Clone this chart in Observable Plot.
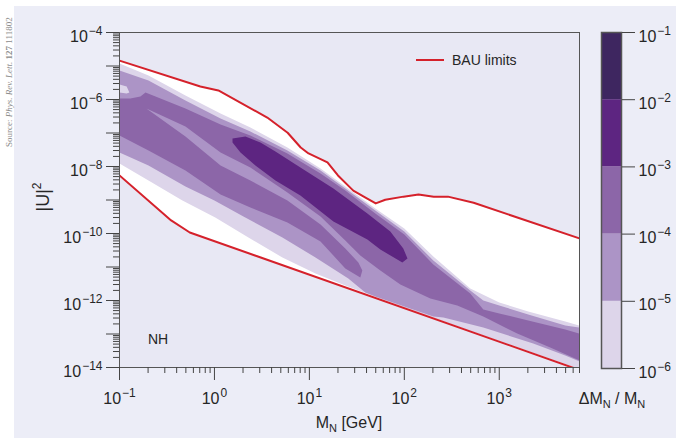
<!DOCTYPE html>
<html>
<head>
<meta charset="utf-8">
<script src="https://cdn.jsdelivr.net/npm/d3@7"></script>
<script src="https://cdn.jsdelivr.net/npm/@observablehq/plot@0.6"></script>
<style>
  body { margin: 0; background: #ffffff; }
  #wrap { position: relative; width: 676px; height: 438px; overflow: hidden;
          font-family: "Liberation Sans", Arial, sans-serif; color: #262626; }
  #bg { position: absolute; left: 14px; top: 6px; right: 0; bottom: 0; background: #ecedf7; }
  #main, #cbar { position: absolute; top: 0; }
  #main { left: 0; }
  #cbar { left: 590px; }
  .lbl { position: absolute; white-space: nowrap; }
  .sub { font-size: 11px; position: relative; top: 4px; }
  .sup { font-size: 12px; position: relative; top: -8px; }
</style>
</head>
<body>
<div id="wrap">
  <div id="bg"></div>
  <div id="main"></div>
  <div id="cbar"></div>
  <div class="lbl" style="left:4px; top:147px; font-size:9px; line-height:10px; font-family:'Liberation Serif',serif; color:#8c8c8c; transform-origin:0 0; transform:rotate(-90deg);">Source: <i>Phys. Rev. Lett.</i> <b>127</b> 111802</div>
  <div class="lbl" style="left:44px; top:197px; font-size:18px; line-height:18px; transform-origin:0 0; transform:rotate(-90deg) translate(-50%,-50%);">|U|<span class="sup">2</span></div>
  <div class="lbl" style="left:349px; top:415px; font-size:16px; line-height:16px; transform:translateX(-50%);">M<span class="sub">N</span> [GeV]</div>
  <div class="lbl" style="left:612px; top:391px; font-size:16px; line-height:16px; transform:translateX(-50%);">ΔM<span class="sub">N</span> / M<span class="sub">N</span></div>
  <div class="lbl" style="left:416px; top:59px; width:28px; height:0; border-top:2px solid #d5212b;"></div>
  <div class="lbl" style="left:452px; top:53px; font-size:14px; line-height:14px;">BAU limits</div>
  <div class="lbl" style="left:148px; top:332px; font-size:14px; line-height:14px;">NH</div>
</div>
<script>
// ---------- data (M_N in GeV, |U|^2) ----------
const bauUpper = [[0.1,1.45e-5],[0.71,2.45e-6],[1.1,1.86e-6],[3.6,2.9e-7],[5.9,1.02e-7],[8.1,3.7e-8],[9.8,2.45e-8],
  [15.5,1.32e-8],[20,5.4e-9],[29,1.9e-9],[39,1.17e-9],[50,7.9e-10],[63,1.02e-9],[98,1.26e-9],[141,1.45e-9],
  [204,1.26e-9],[288,1.26e-9],[537,8.3e-10],[7000,7.1e-11]];
const bauLower = [[0.1,5.4e-9],[0.35,2.45e-10],[0.55,1.07e-10],[7000,8.4e-15]];

const level1Region = [[0.1,1.19e-5],[0.202,5.2e-6],[0.495,1.32e-6],[1.16,3.82e-7],[2.39,1.46e-7],[5.87,3.69e-8],
  [13.1,8.7e-9],[23.9,2.53e-9],[49.5,5.58e-10],[100,1.41e-10],[202,2.06e-11],[495,2.28e-12],[1000,8.7e-13],
  [2018,4.7e-13],[4955,2.36e-13],[7000,1.79e-13],
  [7000,9.0e-15],[1000,6.2e-14],[100,6.2e-13],[23.9,2.8e-12],[18.8,3.69e-12],[11.6,6.4e-12],[5.2,1.92e-11],
  [2.28,7.6e-11],[1.02,3.0e-10],[0.46,9.66e-10],[0.202,3.82e-9],[0.1,1.23e-8]];
const level1Patch = [[0.1,2.8e-6],[0.119,2.44e-6],[0.127,1.62e-6],[0.119,1.51e-6],[0.1,1.62e-6]];
const level2Region = [[0.1,7.34e-6],[0.202,3.69e-6],[0.495,9.34e-7],[1.16,2.71e-7],[2.39,1.11e-7],[5.87,3.0e-8],
  [13.1,7.6e-9],[23.9,2.2e-9],[49.5,4.86e-10],[100,1.15e-10],[202,1.56e-11],[495,1.99e-12],[679,1e-12],
  [1000,7.1e-13],[2018,3.82e-13],[4955,1.79e-13],[7000,1.56e-13],
  [7000,1.51e-14],[4955,2.28e-14],[2280,5.2e-14],[679,1.56e-13],[258,3.1e-13],[202,3.33e-13],[100,6.6e-13],
  [49.5,1.32e-12],[38.8,1.73e-12],[25.7,4.54e-12],[11.6,1.92e-11],[5.2,7.6e-11],[2.02,3.21e-10],[1.0,9.66e-10],
  [0.495,2.53e-9],[0.202,1.07e-8],[0.1,2.62e-8]];
const level3Region = [[0.1,1.07e-6],[0.13,1.07e-6],[0.166,1.23e-6],[0.188,1.62e-6],[0.495,5.4e-7],[1.16,1.79e-7],
  [2.39,8.42e-8],[5.87,2.44e-8],[13.1,6.18e-9],[23.9,1.92e-9],[49.5,3.95e-10],[100,9.34e-11],[202,1.19e-11],
  [495,1.62e-12],[679,5.4e-13],[1000,4.1e-13],[2018,2.53e-13],[4955,1.36e-13],[7000,1.03e-13],
  [7000,1.62e-14],[3444,3.95e-14],[1545,1.03e-13],[679,3.33e-13],[361,7.1e-13],[188,1.15e-12],[90.8,3.0e-12],
  [55.9,7.86e-12],[34.4,2.2e-11],
  [23.9,6.18e-11],[13.1,3.21e-10],[5.87,1.68e-9],[2.39,9.34e-9],[1.16,2.62e-8],[0.495,1.56e-7],[0.192,5.4e-7],
  [0.495,7.86e-8],[1.16,1.07e-8],[2.39,3.82e-9],[5.87,9.66e-10],[13.1,1.86e-10],[23.9,3.57e-11],[32.8,1.36e-11],
  [36.1,7.86e-12],[34.4,4.86e-12],
  [23.9,9.02e-12],[13.1,5.78e-11],[5.87,2.13e-10],[2.39,5.97e-10],[1.16,1.46e-9],[0.495,7.6e-9],[0.202,3.0e-8],
  [0.1,8.42e-8]];
const level4Region = [[1.55,6.85e-8],[2.12,7.86e-8],[3.05,5.2e-8],[4.39,2.8e-8],[8.04,9.34e-9],[17.9,2.2e-9],
  [40.8,3.95e-10],[71.2,1.15e-10],[97.5,3.57e-11],[108,1.79e-11],
  [95.3,1.36e-11],[55.9,3.33e-11],[40.8,6.6e-11],[17.9,2.28e-10],[8.04,1.36e-9],[4.39,3.82e-9],[2.7,1.07e-8],
  [1.88,2.62e-8],[1.55,5.2e-8]];

const levelEdges = [1e-6, 1e-5, 1e-4, 1e-3, 1e-2, 1e-1];
const levelColors = ["#ddd5ea", "#ac94c6", "#8c66a8", "#5d2581", "#3e2660"];

const xDecades = [0.1, 1, 10, 100, 1000];
const yDecades = [1e-14, 1e-13, 1e-12, 1e-11, 1e-10, 1e-9, 1e-8, 1e-7, 1e-6, 1e-5, 1e-4];
const yLabelled = [1e-14, 1e-12, 1e-10, 1e-8, 1e-6, 1e-4];
const cbarTicks = [1e-6, 1e-5, 1e-4, 1e-3, 1e-2, 1e-1];

// ---------- helpers ----------
const RED = "#d5212b";
const exp10 = d => Math.round(Math.log10(d));
const powLabel = d => "10^" + String(exp10(d)).replace("-", "\u2212");
const xMinor = [];
for (const d of xDecades) for (let k = 2; k <= 9; k++) if (k * d <= 7000) xMinor.push(k * d);
const yMinor = [];
for (const d of yDecades.slice(0, -1)) for (let k = 2; k <= 9; k++) yMinor.push(k * d);
const isLab = d => yLabelled.some(v => Math.abs(Math.log10(v) - Math.log10(d)) < 1e-6);

const whiteRegion = bauUpper.concat(bauLower.slice().reverse());
const poly = (pts, fill) => Plot.line(pts, {x: d => d[0], y: d => d[1], fill, stroke: "none", clip: true});

const main = Plot.plot({
  width: 676, height: 438,
  marginLeft: 119, marginRight: 97, marginTop: 32, marginBottom: 71,
  style: {background: "transparent", fontFamily: "'Liberation Sans', Arial, sans-serif", fontSize: "16px", color: "#262626"},
  x: {type: "log", domain: [0.1, 7000]},
  y: {type: "log", domain: [1e-14, 1e-4]},
  marks: [
    Plot.frame({fill: "#e8e8f4", stroke: "none"}),
    poly(whiteRegion, "#ffffff"),
    poly(level1Region, levelColors[0]),
    poly(level2Region, levelColors[1]),
    poly(level1Patch, levelColors[0]),
    poly(level3Region, levelColors[2]),
    poly(level4Region, levelColors[3]),
    Plot.line(bauUpper, {x: d => d[0], y: d => d[1], stroke: RED, strokeWidth: 2, clip: true}),
    Plot.line(bauLower, {x: d => d[0], y: d => d[1], stroke: RED, strokeWidth: 2, clip: true}),
    Plot.frame({stroke: "#555", strokeWidth: 1}),
    Plot.axisX(xMinor, {tickSize: 6, tickFormat: () => "", label: null, stroke: "#444"}),
    Plot.axisX(xDecades, {tickSize: 13, tickPadding: 0, tickFormat: powLabel, label: null, stroke: "#444", fill: "#262626", fontSize: 16}),
    Plot.axisY(yMinor, {tickSize: 6, tickFormat: () => "", label: null, stroke: "#444"}),
    Plot.axisY(yDecades, {tickSize: 13, tickPadding: 4, tickFormat: d => isLab(d) ? powLabel(d) : "", label: null, stroke: "#444", fill: "#262626", fontSize: 16})
  ]
});

const bands = levelColors.map((c, i) => ({lo: levelEdges[i], hi: levelEdges[i + 1], color: c}));
const cbar = Plot.plot({
  width: 86, height: 438,
  marginLeft: 11, marginRight: 55, marginTop: 32, marginBottom: 70,
  style: {background: "transparent", fontFamily: "'Liberation Sans', Arial, sans-serif", fontSize: "16px", color: "#262626"},
  x: {domain: [0, 1], axis: null},
  y: {type: "log", domain: [1e-6, 1e-1]},
  color: {type: "identity"},
  marks: [
    Plot.rect(bands, {x1: () => 0, x2: () => 1, y1: "lo", y2: "hi", fill: "color", inset: 0}),
    Plot.frame({stroke: "#555", strokeWidth: 1.5}),
    Plot.axisY(cbarTicks, {anchor: "right", tickSize: 13, tickPadding: 4, tickFormat: powLabel, label: null, stroke: "#444", fill: "#262626", fontSize: 16})
  ]
});

function superscripts(svg) {
  const ns = "http://www.w3.org/2000/svg";
  svg.querySelectorAll("text").forEach(t => {
    const m = /^10\^(\u2212?\d+)$/.exec(t.textContent);
    if (!m) return;
    const g = t.closest("g[aria-label]");
    const isX = g && (g.getAttribute("aria-label") || "").startsWith("x-axis");
    t.textContent = "";
    const base = document.createElementNS(ns, "tspan");
    base.textContent = "10";
    const sup = document.createElementNS(ns, "tspan");
    sup.textContent = m[1];
    sup.setAttribute("font-size", "12");
    sup.setAttribute("dy", "-7");
    sup.setAttribute("dx", "1");
    t.append(base, sup);
    t.setAttribute("y", isX ? "23" : "9");
  });
}
superscripts(main);
superscripts(cbar);
document.getElementById("main").append(main);
document.getElementById("cbar").append(cbar);
</script>
</body>
</html>
